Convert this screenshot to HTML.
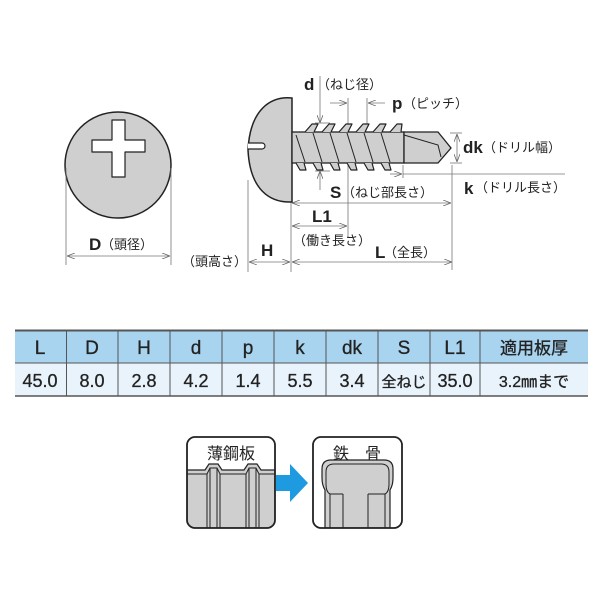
<!DOCTYPE html>
<html><head><meta charset="utf-8"><style>
body{margin:0;background:#fff;width:600px;height:600px;overflow:hidden}
text{font-family:"Liberation Sans","Noto Sans CJK JP",sans-serif;fill:#222}
.j{font-size:13px}
.b{font-size:17px;font-weight:bold}
</style></head><body>
<svg width="600" height="600" viewBox="0 0 600 600" xmlns="http://www.w3.org/2000/svg">
<defs>
<marker id="a" markerWidth="8" markerHeight="6" refX="8" refY="3" orient="auto-start-reverse" markerUnits="userSpaceOnUse"><path d="M0,0 L8,3 L0,6" fill="none" stroke="#666" stroke-width="0.8"/></marker>
</defs>
<circle cx="118" cy="165" r="53" fill="#cfcfcf" stroke="#222" stroke-width="1.5"/>
<path d="M112,120 h13 v20 h20 v12 h-20 v25 h-13 v-25 h-20 v-12 h20 z" fill="#fff" stroke="#222" stroke-width="1.2" stroke-linejoin="round"/>
<g stroke="#777" stroke-width="0.8" fill="none">
<line x1="66" y1="168" x2="66" y2="265"/><line x1="171" y1="168" x2="171" y2="265"/>
<line x1="67" y1="256" x2="170" y2="256" marker-start="url(#a)" marker-end="url(#a)"/>
<line x1="248" y1="180" x2="248" y2="272"/><line x1="291" y1="190" x2="291" y2="272"/>
<line x1="249" y1="262" x2="290" y2="262" marker-start="url(#a)" marker-end="url(#a)"/>
<line x1="292" y1="262" x2="452" y2="262" marker-start="url(#a)" marker-end="url(#a)"/>
<line x1="452" y1="165" x2="452" y2="270"/>
<line x1="292" y1="203" x2="451" y2="203" marker-start="url(#a)" marker-end="url(#a)"/>
<line x1="292" y1="226" x2="347" y2="226" marker-start="url(#a)" marker-end="url(#a)"/>
<line x1="348" y1="98" x2="348" y2="238"/><line x1="367" y1="98" x2="367" y2="126"/>
<line x1="330" y1="103" x2="347" y2="103" marker-end="url(#a)"/>
<line x1="385" y1="103" x2="368" y2="103" marker-end="url(#a)"/>
<line x1="320" y1="76" x2="320" y2="123" marker-end="url(#a)"/>
<line x1="320" y1="190" x2="320" y2="171" marker-end="url(#a)"/>
<line x1="315" y1="123" x2="330" y2="123"/><line x1="315" y1="171" x2="330" y2="171"/>
<line x1="450" y1="133" x2="462" y2="133"/><line x1="450" y1="163" x2="462" y2="163"/>
<line x1="457" y1="134" x2="457" y2="162" marker-start="url(#a)" marker-end="url(#a)"/>
<line x1="403" y1="165" x2="403" y2="178"/>
<line x1="390" y1="174" x2="402" y2="174" marker-end="url(#a)"/>
<line x1="403" y1="174" x2="565" y2="174"/>
</g>
<path d="M292,98 C270,96 250,110 248,150 C250,190 270,203 292,202 Z" fill="#cfcfcf" stroke="#222" stroke-width="1.5"/>
<path d="M248,143 h14 a3,3 0 0 1 0,6 h-14" fill="#fff" stroke="#222" stroke-width="1.2"/>
<rect x="292" y="132" width="112" height="31" fill="#cfcfcf" stroke="#222" stroke-width="1.3"/>
<g fill="#cfcfcf" stroke="#222" stroke-width="1.2" stroke-linejoin="round">
<path d="M305,132 L312,124 L318,124 L314,132"/><path d="M322,132 L329,124 L335,124 L331,132"/>
<path d="M339,132 L346,124 L352,124 L348,132"/><path d="M356,132 L363,124 L369,124 L365,132"/>
<path d="M373,132 L380,124 L386,124 L382,132"/><path d="M390,132 L397,124 L402,124 L401,132"/>
<path d="M296,163 L300,170 L306,170 L304,163"/><path d="M313,163 L317,170 L323,170 L321,163"/>
<path d="M330,163 L334,170 L340,170 L338,163"/><path d="M347,163 L351,170 L357,170 L355,163"/>
<path d="M364,163 L368,170 L374,170 L372,163"/><path d="M381,163 L385,170 L391,170 L389,163"/>
</g>
<g stroke="#222" stroke-width="1">
<line x1="296" y1="135" x2="305" y2="162"/><line x1="313" y1="133" x2="322" y2="162"/>
<line x1="330" y1="133" x2="339" y2="162"/><line x1="347" y1="133" x2="356" y2="162"/>
<line x1="364" y1="133" x2="373" y2="162"/><line x1="381" y1="133" x2="390" y2="162"/>
</g>
<path d="M404,132 L438,132 L451,148 L438,163 L404,163 Z" fill="#cfcfcf" stroke="#222" stroke-width="1.3"/>
<path d="M404,135 L438,145 L441,157" fill="none" stroke="#222" stroke-width="1"/>
<text x="304" y="90" class="b">d</text><text x="317" y="89" class="j">（ねじ径）</text>
<text x="392" y="109" class="b">p</text><text x="403" y="108" class="j">（ピッチ）</text>
<text x="463" y="153" class="b">dk</text><text x="483" y="152" class="j">（ドリル幅）</text>
<text x="464" y="194" class="b">k</text><text x="475" y="192" class="j">（ドリル長さ）</text>
<text x="330" y="198" class="b">S</text><text x="342" y="197" class="j">（ねじ部長さ）</text>
<text x="312" y="222" class="b">L1</text>
<text x="293" y="245" class="j">（働き長さ）</text>
<text x="375" y="258" class="b">L</text><text x="384" y="257" class="j">（全長）</text>
<text x="261" y="256" class="b">H</text>
<text x="182" y="266" class="j">（頭高さ）</text>
<text x="89" y="250" class="b">D</text><text x="101" y="249" class="j">（頭径）</text>
<rect x="15" y="330" width="573" height="33" fill="#a9d4ef"/>
<rect x="15" y="363" width="573" height="33" fill="#e8f3fb"/>
<g stroke="#555" stroke-width="1">
<line x1="15" y1="330.5" x2="588" y2="330.5" stroke-width="2"/>
<line x1="15" y1="363" x2="588" y2="363"/>
<line x1="15" y1="396" x2="588" y2="396" stroke-width="1.5"/>
<line x1="66.5" y1="330" x2="66.5" y2="396"/><line x1="118" y1="330" x2="118" y2="396"/>
<line x1="170" y1="330" x2="170" y2="396"/><line x1="222" y1="330" x2="222" y2="396"/>
<line x1="274" y1="330" x2="274" y2="396"/><line x1="326" y1="330" x2="326" y2="396"/>
<line x1="378" y1="330" x2="378" y2="396"/><line x1="430" y1="330" x2="430" y2="396"/>
<line x1="480" y1="330" x2="480" y2="396"/>
</g>
<g font-size="19" text-anchor="middle" stroke="#222" stroke-width="0.3">
<text x="40" y="354">L</text><text x="92" y="354">D</text><text x="144" y="354">H</text>
<text x="196" y="354">d</text><text x="248" y="354">p</text><text x="300" y="354">k</text>
<text x="352" y="354">dk</text><text x="404" y="354">S</text><text x="455" y="354">L1</text>
<text x="534" y="354" font-size="17">適用板厚</text>
</g>
<g font-size="18" text-anchor="middle" stroke="#222" stroke-width="0.3">
<text x="40" y="387">45.0</text><text x="92" y="387">8.0</text><text x="144" y="387">2.8</text>
<text x="196" y="387">4.2</text><text x="248" y="387">1.4</text><text x="300" y="387">5.5</text>
<text x="352" y="387">3.4</text><text x="404" y="387" font-size="15">全ねじ</text><text x="455" y="387">35.0</text>
<text x="534" y="387" font-size="16">3.2㎜まで</text>
</g>
<clipPath id="c1"><rect x="187" y="437" width="88" height="91" rx="8"/></clipPath>
<clipPath id="c2"><rect x="313" y="437" width="89" height="91" rx="8"/></clipPath>
<g clip-path="url(#c1)">
<rect x="187" y="437" width="88" height="91" fill="#fff"/>
<path d="M187,470 H205 L209,464 H218 L222,470 H244 L248,464 H257 L261,470 H275 V528 H187 Z" fill="#cfcfcf" stroke="#222" stroke-width="1.2"/>
<path d="M187,474 H207 L210,468 H217 L220,474 H246 L249,468 H256 L259,474 H275" fill="none" stroke="#222" stroke-width="1"/>
<g stroke="#222" stroke-width="1"><line x1="207" y1="474" x2="207" y2="528"/><line x1="210" y1="468" x2="210" y2="528"/><line x1="217" y1="468" x2="217" y2="528"/><line x1="220" y1="474" x2="220" y2="528"/><line x1="246" y1="474" x2="246" y2="528"/><line x1="249" y1="468" x2="249" y2="528"/><line x1="256" y1="468" x2="256" y2="528"/><line x1="259" y1="474" x2="259" y2="528"/></g>
</g>
<rect x="187" y="437" width="88" height="91" rx="8" fill="none" stroke="#222" stroke-width="1.8"/>
<text x="231" y="459" text-anchor="middle" font-size="16">薄鋼板</text>
<g clip-path="url(#c2)">
<rect x="313" y="437" width="89" height="91" fill="#fff"/>
<path d="M325,528 V490 Q322,485 322,478 V469 Q322,460 331,460 H384 Q393,460 393,469 V478 Q393,485 390,490 V528 Z" fill="#cfcfcf" stroke="#222" stroke-width="1.2"/>
<path d="M330,528 V494 Q326,492 326,484 V472 Q326,464 334,464 H381 Q389,464 389,472 V484 Q389,492 385,494 V528" fill="none" stroke="#222" stroke-width="1"/>
<line x1="343" y1="494" x2="343" y2="528" stroke="#222"/><line x1="368" y1="494" x2="368" y2="528" stroke="#222"/>
<path d="M330,494 H343 M368,494 H385" stroke="#222"/>
</g>
<rect x="313" y="437" width="89" height="91" rx="8" fill="none" stroke="#222" stroke-width="1.8"/>
<text x="357" y="459" text-anchor="middle" font-size="16">鉄　骨</text>
<path d="M276,475 H290 V464 L308,483 L290,502 V491 H276 Z" fill="#1e9be0"/>
</svg>
</body></html>
